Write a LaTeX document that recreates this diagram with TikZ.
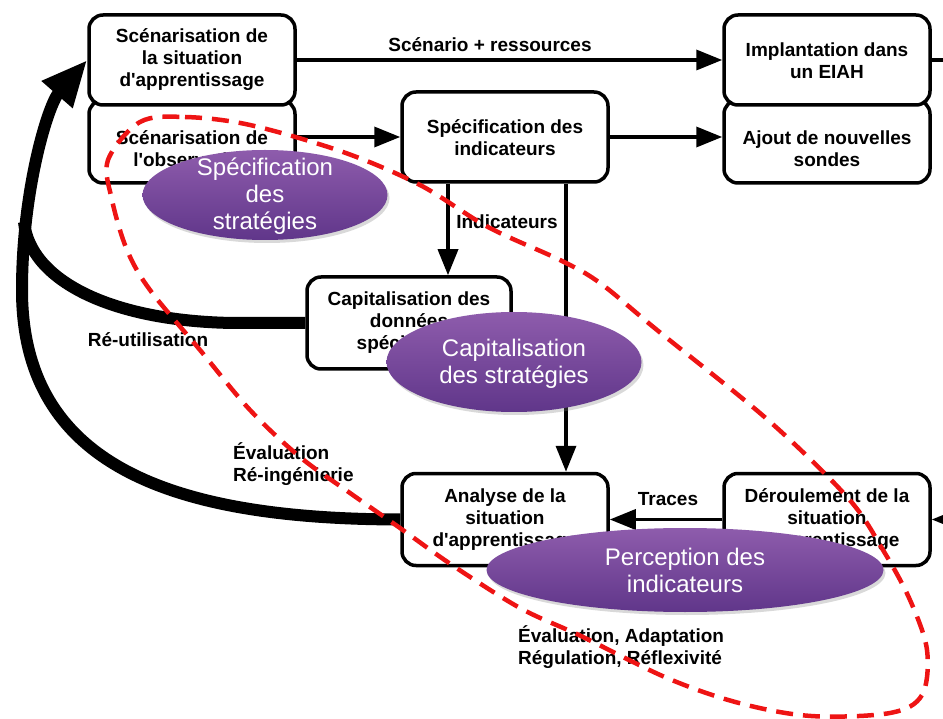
\documentclass[tikz,border=0pt]{standalone}
\usepackage{fontspec}
\setmainfont{Liberation Sans}[Ligatures=TeXOff]
\usetikzlibrary{arrows.meta,shadows,shapes.geometric}
\definecolor{purpleTop}{RGB}{142,92,172}
\definecolor{purpleBot}{RGB}{96,54,138}
\definecolor{dashred}{RGB}{238,20,20}
\begin{document}
\begin{tikzpicture}[x=1pt,y=-1pt,
 box/.style={draw, line width=3.5pt, rounded corners=14pt, fill=white, inner sep=0pt},
 btxt/.style={align=center, font=\fontsize{19}{22}\selectfont\bfseries, inner sep=0pt},
 lab/.style={font=\fontsize{19}{22}\selectfont\bfseries, inner sep=0pt, align=left},
 conn/.style={line width=3.5pt, -{Triangle[length=26pt,width=20pt]}},
 plainline/.style={line width=3.5pt},
 bigarrow/.style={line width=12pt, -{Triangle[length=46pt,width=38pt]}},
 bigline/.style={line width=12pt},
 bubble/.style={ellipse, inner sep=0pt, top color=purpleTop, bottom color=purpleBot, draw=none,
   drop shadow={shadow xshift=2pt, shadow yshift=-3pt, opacity=0.3}},
 bubtxt/.style={text=white, align=center, font=\fontsize{24}{27}\selectfont, inner sep=0pt},
 redloop/.style={draw=dashred, line width=4.5pt, dash pattern=on 17pt off 10pt}
]
\useasboundingbox (0,0) rectangle (943,719);

% boxes
\node[box, minimum width=206pt, minimum height=83pt] (obs) at (192,141.5) {};
\node[box, minimum width=206pt, minimum height=90pt] (scen) at (192,60) {};
\node[btxt] (scenT) at (192,60) {Scénarisation de\\la situation\\d'apprentissage};
\node[btxt] (obsT) at (192,149) {Scénarisation de\\l'observation};

\node[box, minimum width=206pt, minimum height=83pt] (ajout) at (827,141.5) {};
\node[box, minimum width=206pt, minimum height=90pt] (impl) at (827,60) {};
\node[btxt] (implT) at (827,61) {Implantation dans\\un EIAH};
\node[btxt] (ajoutT) at (827,149) {Ajout de nouvelles\\sondes};

\node[box, minimum width=206pt, minimum height=90pt] (spec) at (505,137) {};
\node[btxt] (specT) at (505,138) {Spécification des\\indicateurs};

\node[box, minimum width=204pt, minimum height=92pt] (capi) at (409,323) {};
\node[btxt] (capiT) at (409,323) {Capitalisation des\\données\\spécifiques};

\node[box, minimum width=206pt, minimum height=92pt] (ana) at (505,519.5) {};
\node[btxt] (anaT) at (505,519.5) {Analyse de la\\situation\\d'apprentissage};

\node[box, minimum width=206pt, minimum height=92pt] (der) at (827,519.5) {};
\node[btxt] (derT) at (827,519.5) {Déroulement de la\\situation\\d'apprentissage};

% connectors
\draw[conn] (scen.east) -- (impl.west);
\node[lab] (l1) at (490,45) {Scénario + ressources};
\draw[conn] (obs.east |- spec.west) -- (spec.west);
\draw[conn] (spec.east) -- (ajout.west |- spec.east);
\coordinate (cf) at (448,0);
\coordinate (cg) at (566,0);
\draw[conn] (spec.south -| cf) -- (capi.north -| cf);
\node[lab] (l2) at (507,222) {Indicateurs};
\draw[conn] (spec.south -| cg) -- (ana.north -| cg);
\draw[conn] (der.west) -- (ana.east);
\node[lab] (l3) at (668,499) {Traces};
\coordinate (rt) at (950,60);
\coordinate (rb) at (950,519.5);
\draw[plainline] (impl.east) -- (rt);
\draw[conn] (rb) -- (der.east);

% thick feedback arrows
\draw[bigline] (capi.west) -- (233,323) .. controls (110,321) and (30,280) .. (24,222);
\draw[bigarrow] (ana.west) .. controls (180,519) and (22,470) .. (22,290) .. controls (22,190) and (48,105) .. (scen.west);

\node[lab] (l4) at (148,340) {Ré-utilisation};
\node[lab, anchor=west] (l5) at (233,464) {Évaluation\\Ré-ingénierie};
\node[lab, anchor=west] (l6) at (518,647) {Évaluation, Adaptation\\Régulation, Réflexivité};

% dashed red loop
\draw[redloop] plot[smooth cycle, tension=0.55] coordinates {
 (140,122) (185,117) (250,125) (343,152) (420,185) (488,227) (560,260) (600,283) (657,330)
 (768,420) (848,498) (883,550) (910,600) (927,650) (922,695) (890,713) (811,716) (739,703)
 (667,678) (581,636) (520,608) (452,565) (400,528) (350,493) (300,457) (250,410) (200,350)
 (150,290) (127,250) (112,200) (108,160)};

% purple bubbles
\node[bubble, minimum width=245pt, minimum height=90pt] (b1) at (265,195) {};
\node[bubtxt] (b1T) at (265,196) {Spécification\\des\\stratégies};
\node[bubble, minimum width=255pt, minimum height=100pt] (b2) at (514,362) {};
\node[bubtxt] (b2T) at (514,364) {Capitalisation\\des stratégies};
\node[bubble, minimum width=397pt, minimum height=84pt] (b3) at (685,570) {};
\node[bubtxt] (b3T) at (685,570) {Perception des\\indicateurs};
\end{tikzpicture}
\end{document}
